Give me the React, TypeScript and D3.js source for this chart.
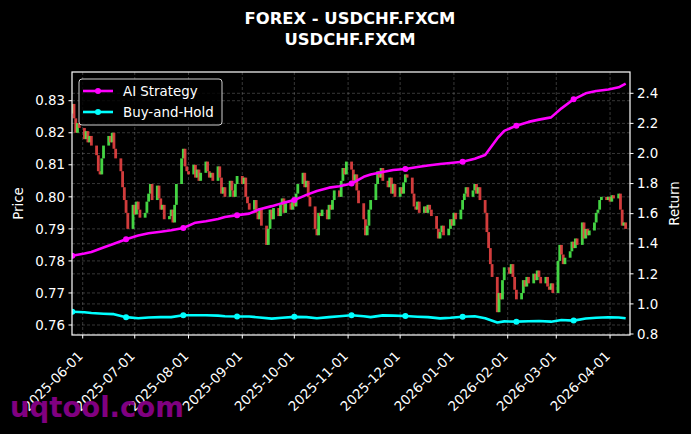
import React from 'react';
import * as d3 from 'd3';

// daily closes, one row per trading week (Mon..Fri), starting 2025-05-26
const closes: number[] = [
    0.8290, 0.8245, 0.8200, 0.8230, 0.8215,
    0.8180, 0.8205, 0.8170, 0.8190, 0.8160,
    0.8130, 0.8080, 0.8070, 0.8120, 0.8160,
    0.8190, 0.8170, 0.8200, 0.8150, 0.8120,
    0.8080, 0.8030, 0.7990, 0.7950, 0.7900,
    0.7975, 0.7945, 0.7985, 0.7960, 0.7935,
    0.7950, 0.7985, 0.8010, 0.8040, 0.7990,
    0.8035, 0.7995, 0.7960, 0.7975, 0.7930,
    0.7940, 0.7960, 0.7920, 0.7975, 0.8040,
    0.8120, 0.8150, 0.8095, 0.8080, 0.8070,
    0.8100, 0.8060, 0.8085, 0.8050, 0.8075,
    0.8110, 0.8080, 0.8060, 0.8075, 0.8050,
    0.8095, 0.8060, 0.8010, 0.8030, 0.8000,
    0.8050, 0.8020, 0.8000, 0.8040, 0.8065,
    0.8040, 0.8060, 0.8000, 0.7980, 0.7960,
    0.7990, 0.7950, 0.7930, 0.7965, 0.7910,
    0.7850, 0.7900, 0.7960, 0.7930, 0.7965,
    0.7940, 0.7975, 0.7995, 0.7950, 0.7980,
    0.7960, 0.7990, 0.7970, 0.8010, 0.8040,
    0.8075, 0.8030, 0.8050, 0.8000, 0.7970,
    0.7900, 0.7880, 0.7950, 0.7940, 0.7960,
    0.7930, 0.7975, 0.7960, 0.7990, 0.8020,
    0.8000, 0.8050, 0.8090, 0.8070, 0.8110,
    0.8085, 0.8050, 0.8070, 0.8020, 0.7980,
    0.7930, 0.7880, 0.7910, 0.7960, 0.7990,
    0.8040, 0.8080, 0.8060, 0.8090, 0.8050,
    0.8030, 0.8060, 0.8010, 0.8040, 0.8000,
    0.8030, 0.8010, 0.8045, 0.8070, 0.8060,
    0.8010, 0.7970, 0.7960, 0.7985, 0.7950,
    0.7970, 0.7950, 0.7975, 0.7960, 0.7940,
    0.7900, 0.7870, 0.7890, 0.7910, 0.7880,
    0.7900, 0.7930, 0.7910, 0.7950, 0.7930,
    0.7960, 0.7990, 0.8010, 0.8030, 0.8000,
    0.8020, 0.8040, 0.8010, 0.8030, 0.7990,
    0.7950, 0.7890, 0.7840, 0.7790, 0.7750,
    0.7640, 0.7700, 0.7680, 0.7740, 0.7780,
    0.7760, 0.7790, 0.7750, 0.7710, 0.7680,
    0.7700, 0.7740, 0.7720, 0.7750, 0.7730,
    0.7760, 0.7740, 0.7770, 0.7750, 0.7730,
    0.7750, 0.7720, 0.7710, 0.7730, 0.7700,
    0.7800, 0.7850, 0.7820, 0.7790, 0.7810,
    0.7830, 0.7860, 0.7840, 0.7870, 0.7850,
    0.7920, 0.7870, 0.7900, 0.7880, 0.7895,
    0.7920, 0.7950, 0.7960, 0.7990, 0.8000,
    0.7990, 0.8000, 0.7985, 0.8005, 0.7995,
    0.8010, 0.7960, 0.7910, 0.7920, 0.7900,
];
const firstOpen = 0.8260;

// trading-day index of each strategy sample (a marker every 23 days)
const lineDays = [
    0, 5, 9, 14, 18, 23, 28, 32, 37, 41, 46, 51, 55, 60, 64, 69, 74, 78, 83, 87,
    92, 97, 101, 106, 110, 115, 120, 124, 129, 133, 138, 143, 147, 152, 156,
    161, 166, 170, 175, 179, 184, 189, 193, 198, 202, 207, 212, 216, 221, 225, 229,
];
const aiStrategy = [
    1.32, 1.335, 1.345, 1.375, 1.40, 1.43, 1.455, 1.47, 1.48, 1.49,
    1.505, 1.54, 1.55, 1.565, 1.578, 1.59, 1.60, 1.63, 1.65, 1.67,
    1.69, 1.725, 1.75, 1.773, 1.782, 1.80, 1.845, 1.86, 1.877, 1.89,
    1.897, 1.91, 1.92, 1.93, 1.937, 1.945, 1.965, 1.99, 2.10, 2.15,
    2.185, 2.21, 2.225, 2.24, 2.30, 2.36, 2.40, 2.415, 2.425, 2.44, 2.465,
];
const buyAndHold = [
    0.948, 0.945, 0.94, 0.935, 0.932, 0.912, 0.905, 0.91, 0.912, 0.912,
    0.925, 0.925, 0.925, 0.922, 0.918, 0.916, 0.916, 0.91, 0.902, 0.908,
    0.914, 0.912, 0.905, 0.912, 0.918, 0.925, 0.918, 0.912, 0.924, 0.922,
    0.92, 0.915, 0.912, 0.904, 0.908, 0.915, 0.918, 0.905, 0.876, 0.884,
    0.882, 0.885, 0.886, 0.882, 0.893, 0.889, 0.903, 0.908, 0.911, 0.91, 0.905,
];

const priceTicks = [0.76, 0.77, 0.78, 0.79, 0.80, 0.81, 0.82, 0.83];
const returnTicks = [0.8, 1.0, 1.2, 1.4, 1.6, 1.8, 2.0, 2.2, 2.4];
const monthTicks = [
    '2025-06-01', '2025-07-01', '2025-08-01', '2025-09-01', '2025-10-01', '2025-11-01',
    '2025-12-01', '2026-01-01', '2026-02-01', '2026-03-01', '2026-04-01',
];

const width = 691;
const height = 434;
const marginLeft = 72;
const marginRight = 630;
const marginTop = 72;
const marginBottom = 335;

const font = 'DejaVu Sans, sans-serif';
const upColor = '#4cf04c';
const downColor = '#ee4444';

const tradingDay = (i: number) =>
    new Date(Date.UTC(2025, 4, 26 + 7 * Math.floor(i / 5) + (i % 5)));
const parseDay = (s: string) => {
    const [y, m, d] = s.split('-').map(Number);
    return new Date(Date.UTC(y, m - 1, d));
};

const App: React.FC = () => {
    const x = d3.scaleUtc()
        .domain([new Date(Date.UTC(2025, 4, 25, 20)), new Date(Date.UTC(2026, 3, 12, 12))])
        .range([marginLeft, marginRight]);
    const y = d3.scaleLinear().domain([0.75688, 0.83896]).range([marginBottom, marginTop]);
    const yr = d3.scaleLinear().domain([0.7934, 2.5416]).range([marginBottom, marginTop]);

    const candles = closes.map((c, i) => ({
        date: tradingDay(i),
        open: i === 0 ? firstOpen : closes[i - 1],
        close: c,
    }));

    const strategyLine = d3.line<number>()
        .x((_, i) => x(tradingDay(lineDays[i])))
        .y(d => yr(d));

    const markerIdx = lineDays.map((d, i) => (d % 23 === 0 ? i : -1)).filter(i => i >= 0);

    return (
        <svg width={width} height={height} viewBox={`0 0 ${width} ${height}`}
            style={{ position: 'absolute', left: 0, top: 0, background: '#000' }}>
            <rect width={width} height={height} fill="#000" />
            <defs>
                <clipPath id="plot">
                    <rect x={marginLeft} y={marginTop} width={marginRight - marginLeft} height={marginBottom - marginTop} />
                </clipPath>
            </defs>

            <text x={350} y={24} fill="#fff" fontFamily={font} fontWeight="bold" fontSize={16.4} textAnchor="middle">FOREX - USDCHF.FXCM</text>
            <text x={350} y={45} fill="#fff" fontFamily={font} fontWeight="bold" fontSize={16.4} textAnchor="middle">USDCHF.FXCM</text>

            {/* grid */}
            <g stroke="#9a9a9a" strokeOpacity={0.45} strokeWidth={0.8} strokeDasharray="3,2">
                {monthTicks.map(t => (
                    <line key={t} x1={x(parseDay(t))} x2={x(parseDay(t))} y1={marginTop} y2={marginBottom} />
                ))}
                {priceTicks.map(t => (
                    <line key={'p' + t} x1={marginLeft} x2={marginRight} y1={y(t)} y2={y(t)} />
                ))}
                {returnTicks.map(t => (
                    <line key={'r' + t} x1={marginLeft} x2={marginRight} y1={yr(t)} y2={yr(t)} />
                ))}
            </g>

            <g clipPath="url(#plot)">
                {candles.map((c, i) => {
                    const cx = x(c.date);
                    const top = y(Math.max(c.open, c.close));
                    const bot = y(Math.min(c.open, c.close));
                    return (
                        <rect key={i} x={cx - 1.4} width={2.8} y={top} height={Math.max(1, bot - top)}
                            fill={c.close >= c.open ? upColor : downColor} fillOpacity={0.88} />
                    );
                })}
                <path d={strategyLine(buyAndHold) || ''} fill="none" stroke="#00ffff" strokeWidth={2.6} strokeLinejoin="round" />
                <path d={strategyLine(aiStrategy) || ''} fill="none" stroke="#ff00ff" strokeWidth={2.6} strokeLinejoin="round" />
                {markerIdx.map(i => (
                    <g key={i}>
                        <circle cx={x(tradingDay(lineDays[i]))} cy={yr(buyAndHold[i])} r={3} fill="#00ffff" />
                        <circle cx={x(tradingDay(lineDays[i]))} cy={yr(aiStrategy[i])} r={3} fill="#ff00ff" />
                    </g>
                ))}
            </g>

            {/* spines */}
            <rect x={marginLeft} y={marginTop} width={marginRight - marginLeft} height={marginBottom - marginTop}
                fill="none" stroke="#fff" strokeWidth={1.2} />

            <g fontFamily={font} fontSize={13.4} fill="#fff">
                {priceTicks.map(t => (
                    <g key={t}>
                        <line x1={marginLeft - 3.5} x2={marginLeft} y1={y(t)} y2={y(t)} stroke="#fff" />
                        <text x={marginLeft - 7} y={y(t)} dy="0.35em" textAnchor="end">{t.toFixed(2)}</text>
                    </g>
                ))}
                {returnTicks.map(t => (
                    <g key={t}>
                        <line x1={marginRight} x2={marginRight + 3.5} y1={yr(t)} y2={yr(t)} stroke="#fff" />
                        <text x={marginRight + 7} y={yr(t)} dy="0.35em" textAnchor="start">{t.toFixed(1)}</text>
                    </g>
                ))}
                {monthTicks.map(t => {
                    const tx = x(parseDay(t));
                    return (
                        <g key={t}>
                            <line x1={tx} x2={tx} y1={marginBottom} y2={marginBottom + 3.5} stroke="#fff" />
                            <text transform={`translate(${tx + 1},${marginBottom + 22}) rotate(-45)`} textAnchor="end">{t}</text>
                        </g>
                    );
                })}
                <text transform={`translate(23,${(marginTop + marginBottom) / 2}) rotate(-90)`} textAnchor="middle">Price</text>
                <text transform={`translate(679,${(marginTop + marginBottom) / 2}) rotate(-90)`} textAnchor="middle">Return</text>
            </g>

            {/* legend */}
            <g fontFamily={font} fontSize={13.4} fill="#fff">
                <rect x={79} y={79} width={143} height={46} rx={3} fill="#000" fillOpacity={0.8} stroke="#d0d0d0" strokeWidth={1} />
                <line x1={83} x2={113} y1={91} y2={91} stroke="#ff00ff" strokeWidth={2.6} />
                <circle cx={98} cy={91} r={3} fill="#ff00ff" />
                <text x={123} y={91} dy="0.36em">AI Strategy</text>
                <line x1={83} x2={113} y1={112} y2={112} stroke="#00ffff" strokeWidth={2.6} />
                <circle cx={98} cy={112} r={3} fill="#00ffff" />
                <text x={123} y={112} dy="0.36em">Buy-and-Hold</text>
            </g>

            <text x={10} y={417} fill="#800080" fontFamily={font} fontWeight="bold" fontSize={27.5}>uqtool.com</text>
        </svg>
    );
};

export default App;
